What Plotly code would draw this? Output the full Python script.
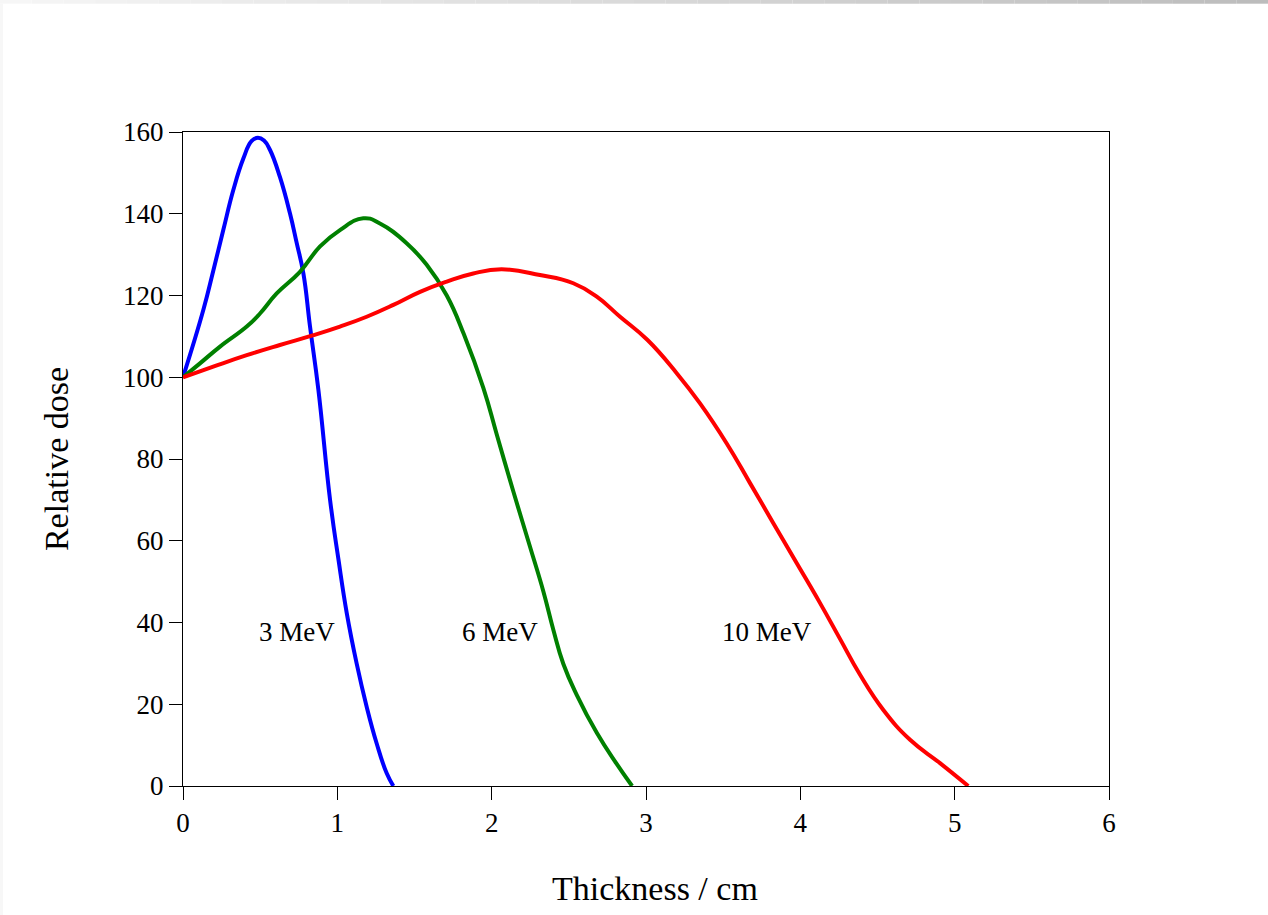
import plotly.graph_objects as go

# ---- data ----
x_3mev = [0.0, 0.132, 0.197, 0.261, 0.326, 0.391, 0.445, 0.485, 0.525, 0.564, 0.628, 0.693,
          0.737, 0.780, 0.823, 0.877, 0.953, 1.007, 1.061, 1.125, 1.19, 1.255, 1.32, 1.363]
y_3mev = [100, 116.5, 126.2, 136, 145.8, 153.5, 157.8, 158.6, 157.9, 155.6, 149, 140.1,
          132.8, 125.4, 112.4, 97.0, 70.0, 55.5, 42.3, 30, 19.4, 10.4, 3.1, 0]

x_6mev = [0.0, 0.110, 0.240, 0.413, 0.499, 0.607, 0.758, 0.888, 1.017, 1.168, 1.276, 1.449,
          1.579, 1.709, 1.82, 1.946, 2.033, 2.140, 2.248, 2.335, 2.399, 2.464, 2.551, 2.681,
          2.810, 2.91]
y_6mev = [100, 103.4, 107.5, 112.4, 115.6, 120.5, 125.8, 132, 136, 138.9, 137.6, 132.8,
          127.5, 120.0, 110.5, 97.4, 86.0, 72.1, 58.6, 47.6, 38.3, 29.9, 22.3, 13,
          5.4, 0]

x_10mev = [0.0, 0.196, 0.413, 0.628, 0.845, 1.017, 1.190, 1.363, 1.536, 1.709, 1.881, 2.065,
           2.313, 2.529, 2.681, 2.832, 3.010, 3.199, 3.35, 3.523, 3.674, 3.825, 3.977, 4.127,
           4.257, 4.387, 4.538, 4.711, 4.905, 5.088]
y_10mev = [100, 102.6, 105.4, 107.9, 110.3, 112.4, 114.8, 117.7, 120.9, 123.4, 125.4, 126.4,
           125, 123, 119.7, 114.8, 109.1, 101, 93.6, 83.8, 74.1, 64.3, 54.5, 44.8,
           36.0, 27.2, 18.6, 11.3, 5.6, 0]

labels = ["3 MeV", "6 MeV", "10 MeV"]
label_x = [0.739, 2.054, 3.784]
label_y = [37.7, 37.7, 37.7]

x_ticks = [0, 1, 2, 3, 4, 5, 6]
y_ticks = [0, 20, 40, 60, 80, 100, 120, 140, 160]

colors = ["#0000ff", "#008000", "#ff0000"]
FONT = "Liberation Serif, Times New Roman, serif"

fig = go.Figure()
for xs, ys, c, name in zip([x_3mev, x_6mev, x_10mev], [y_3mev, y_6mev, y_10mev], colors, labels):
    fig.add_trace(go.Scatter(x=xs, y=ys, mode="lines", name=name,
                             line=dict(color=c, width=4, shape="spline", smoothing=1.3),
                             showlegend=False, hoverinfo="skip"))

for t, lx, ly in zip(labels, label_x, label_y):
    fig.add_annotation(x=lx, y=ly, text=t, showarrow=False,
                       font=dict(family=FONT, size=27, color="black"))

W, H = 1268, 915
L, R, T, B = 183, 159, 132, 129
pw, ph = W - L - R, H - T - B

def px2paper_x(px):
    return (px - L) / pw

def py2paper_y(py):
    return 1 - (py - T) / ph

# window-frame strip (gray band along top and left of the screenshot)
n = 40
for i in range(n):
    x0 = W * i / n
    x1 = W * (i + 1) / n
    g = int(247 - (247 - 188) * (i + 0.5) / n)
    fig.add_shape(type="rect", xref="paper", yref="paper",
                  x0=px2paper_x(x0), x1=px2paper_x(x1),
                  y0=py2paper_y(3.7), y1=py2paper_y(0),
                  fillcolor=f"rgb({g},{g},{g})", line=dict(width=0), layer="above")
fig.add_shape(type="rect", xref="paper", yref="paper",
              x0=px2paper_x(0), x1=px2paper_x(3), y0=py2paper_y(H), y1=py2paper_y(3.7),
              fillcolor="rgb(247,247,247)", line=dict(width=0), layer="above")

# x-axis title (placed as annotation to match its slightly off-centre position)
fig.add_annotation(xref="paper", yref="paper", x=px2paper_x(655), y=py2paper_y(888),
                   text="Thickness / cm", showarrow=False, xanchor="center", yanchor="middle",
                   font=dict(family=FONT, size=34, color="black"))

fig.update_layout(
    width=W, height=H,
    margin=dict(l=L, r=R, t=T, b=B),
    paper_bgcolor="white", plot_bgcolor="white",
    font=dict(family=FONT, color="black"),
)
fig.update_xaxes(range=[0, 6], tickvals=x_ticks, ticktext=[str(v) for v in x_ticks],
                 ticks="outside", ticklen=13, tickcolor="black", tickwidth=1,
                 showline=True, linecolor="black", linewidth=1, mirror=True,
                 showgrid=False, zeroline=False,
                 tickfont=dict(family=FONT, size=27, color="black"))
fig.update_yaxes(range=[0, 160], tickvals=y_ticks, ticktext=[str(v) for v in y_ticks],
                 ticks="outside", ticklen=13, tickcolor="black", tickwidth=1,
                 showline=True, linecolor="black", linewidth=1, mirror=True,
                 showgrid=False, zeroline=False,
                 tickfont=dict(family=FONT, size=27, color="black"),
                 title=dict(text="Relative dose", font=dict(family=FONT, size=34, color="black"),
                            standoff=44))

fig.write_html("out.html")
